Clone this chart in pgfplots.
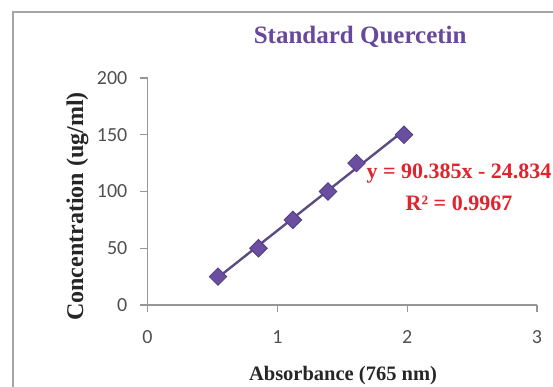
\documentclass[border=0pt]{standalone}
\usepackage{pgfplots}
\pgfplotsset{compat=1.18}
\usepackage{fontspec}
\setmainfont{Liberation Serif}
\newfontfamily\carlito{Carlito}
\definecolor{axgray}{RGB}{150,150,150}
\definecolor{framegray}{RGB}{165,165,165}
\definecolor{mkpurple}{RGB}{106,78,160}
\definecolor{mkedge}{RGB}{84,60,130}
\definecolor{lnpurple}{RGB}{92,76,132}
\definecolor{ttpurple}{RGB}{104,72,156}
\definecolor{eqred}{RGB}{225,35,45}
\definecolor{ticktext}{RGB}{80,80,80}
\begin{document}
\begin{tikzpicture}[x=1pt,y=1pt]
\clip (0,0) rectangle (553,-387);
\fill[white] (0,0) rectangle (553,-387);
\draw[framegray, line width=2pt] (12.5,-395) -- (12.5,-12.5) -- (560,-12.5);
\begin{axis}[
  at={(147.5pt,-305pt)}, anchor=south west,
  scale only axis, width=389.5pt, height=227pt,
  xmin=0, xmax=3, ymin=0, ymax=200,
  axis lines*=left,
  xtick={0,1,2,3}, ytick={0,50,100,150,200},
  tick align=outside, major tick length=7pt,
  axis line style={draw=axgray, line width=1.2pt},
  tick style={draw=axgray, line width=1.2pt},
  /pgf/number format/assume math mode=true,
  ticklabel style={font=\carlito\fontsize{20}{24}\selectfont, text=ticktext, inner sep=0pt},
  xticklabel style={anchor=north, yshift=-18pt},
  yticklabel style={anchor=east, xshift=-13pt},
  clip=false,
  title={Standard Quercetin},
  title style={at={(axis description cs:0.546,1.154)}, anchor=center, font=\bfseries\fontsize{25}{30}\selectfont, text=ttpurple, inner sep=0pt},
  xlabel={Absorbance (765 nm)},
  xlabel style={at={(axis description cs:0.502,-0.313)}, anchor=center, font=\bfseries\fontsize{20.5}{24}\selectfont, text=black!85, inner sep=0pt},
  ylabel={Concentration (ug/ml)},
  ylabel style={at={(axis description cs:-0.18,0.434)}, anchor=center, rotate=0, font=\bfseries\fontsize{24}{28}\selectfont, text=black!85, inner sep=0pt},
]
\addplot[draw=lnpurple, line width=2.4pt, no marks] coordinates {(0.543,24.24) (1.975,153.68)};
\addplot[only marks, mark=square*, mark size=6.2pt, mark options={rotate=45, fill=mkpurple, draw=mkedge, line width=0.8pt}] coordinates {
(0.543,25) (0.855,50) (1.12,75) (1.39,100) (1.61,125) (1.975,150)};
\end{axis}
\node[text=eqred, font=\bfseries\fontsize{22}{32}\selectfont, align=center, anchor=center, inner sep=0pt] at (459,-187) {y = 90.385x - 24.834\\R² = 0.9967};
\end{tikzpicture}
\end{document}
